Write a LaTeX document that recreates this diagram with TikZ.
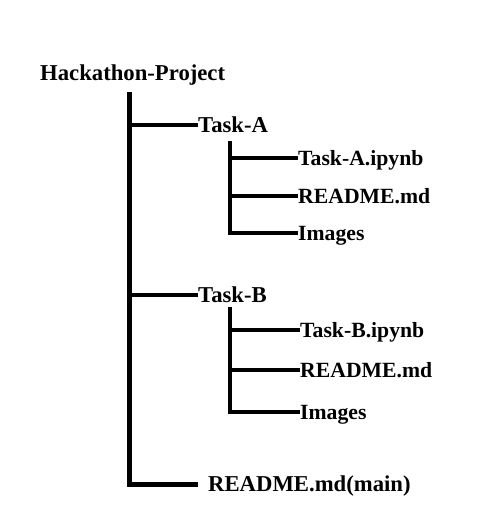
\documentclass[tikz,border=0pt]{standalone}
\usepackage{fontspec}
\setmainfont{Liberation Serif}
\begin{document}
\begin{tikzpicture}[x=1pt,y=-1pt,
  lbl/.style={anchor=base west,inner sep=0pt,font=\bfseries\fontsize{22.7}{24}\selectfont},
  leaf/.style={anchor=base west,inner sep=0pt,font=\bfseries\fontsize{21.7}{23}\selectfont},
  trunk/.style={line width=5pt,line join=miter},
  twig/.style={line width=4pt,line join=miter}]
\useasboundingbox (0,0) rectangle (496,520);
% nodes
\node[lbl] (root) at (40,80) {Hackathon-Project};
\node[lbl] (ta) at (198,132.5) {Task-A};
\node[leaf] (ta1) at (298,165) {Task-A.ipynb};
\node[leaf] (ta2) at (298,203) {README.md};
\node[leaf] (ta3) at (298,240) {Images};
\node[lbl] (tb) at (198,302.5) {Task-B};
\node[leaf] (tb1) at (300,337) {Task-B.ipynb};
\node[leaf] (tb2) at (300,377) {README.md};
\node[leaf] (tb3) at (300,419) {Images};
\node[lbl] (rm) at (208,491) {README.md(main)};
% coordinates
\coordinate (t0) at (129,92);
\coordinate (t1) at (129,484);
\coordinate (rmend) at (198,484);
\coordinate (a0) at (230,141);
\coordinate (a1) at (230,233);
\coordinate (b0) at (230,307);
\coordinate (b1) at (230,412);
% connectors
\draw[trunk] (t0) -- (t1) -- (rmend);
\draw[twig] (129,125) -- (ta.west|-0,125);
\draw[twig] (129,295) -- (tb.west|-0,295);
\draw[twig] (a0) -- (a1) -- (ta3.west|-a1);
\draw[twig] (230,158) -- (ta1.west|-0,158);
\draw[twig] (230,196) -- (ta2.west|-0,196);
\draw[twig] (b0) -- (b1) -- (tb3.west|-b1);
\draw[twig] (230,330) -- (tb1.west|-0,330);
\draw[twig] (230,370) -- (tb2.west|-0,370);
\end{tikzpicture}
\end{document}
